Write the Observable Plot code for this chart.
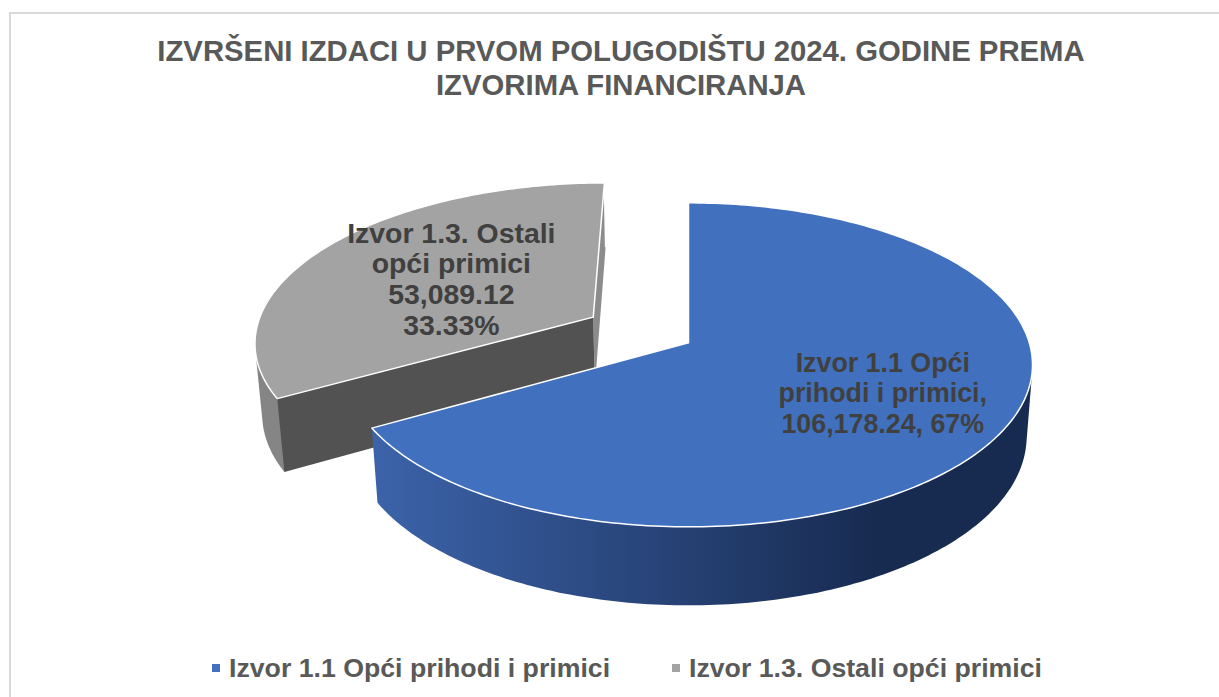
<!DOCTYPE html>
<html>
<head>
<meta charset="utf-8">
<script src="https://cdn.jsdelivr.net/npm/d3@7"></script>
<script src="https://cdn.jsdelivr.net/npm/@observablehq/plot@0.6"></script>
<style>
  html, body { margin: 0; padding: 0; background: #fff; overflow: hidden; }
  #page { position: relative; width: 1219px; height: 697px; overflow: hidden; font-family: "Liberation Sans", Arial, sans-serif; font-weight: bold; color: #595959; }
  #frame { position: absolute; left: 9px; top: 12px; width: 1300px; height: 800px; border: 2px solid #d9d9d9; box-sizing: border-box; }
  #title { position: absolute; left: 0; top: 34px; width: 1242px; text-align: center; font-size: 29.3px; line-height: 34px; white-space: nowrap; }
  #chart { position: absolute; left: 0; top: 120px; }
  #legend { position: absolute; left: 0; top: 652px; height: 32px; font-size: 26.7px; line-height: 32px; white-space: nowrap; }
  .item { position: absolute; top: 0; display: flex; align-items: center; }
  .swatch { width: 8px; height: 8px; margin-right: 9px; }
</style>
</head>
<body>
<div id="page">
  <div id="frame"></div>
  <div id="title"></div>
  <div id="chart"></div>
  <div id="legend"></div>
</div>
<script>
const titleLines = ["IZVRŠENI IZDACI U PRVOM POLUGODIŠTU 2024. GODINE PREMA", "IZVORIMA FINANCIRANJA"];
const categories = ["Izvor 1.1 Opći prihodi i primici", "Izvor 1.3. Ostali opći primici"];
const values = [106178.24, 53089.12];
const labelHeads = [["Izvor 1.1 Opći", "prihodi i primici,"], ["Izvor 1.3. Ostali", "opći primici"]];
const colors = ["#4170bf", "#a3a3a3"];
const explode = [0, 0.33];
const labelRadius = [0.63, 0.52];

// Perspective camera of the 3-D pie
const A = 340.8, B = 159, K = 0.136, DEPTH = 72.3, DEPTH_W = 0.017;
function project(x, yy, lower) {
  const w = 1 - K * yy + (lower ? DEPTH_W : 0);
  return {x: A * x / w, y: (B * yy + (lower ? DEPTH : 0)) / w};
}
const total = d3.sum(values);
let acc = 0;
const slices = values.map((v, i) => {
  const a0 = acc / total * 2 * Math.PI;
  acc += v;
  const a1 = acc / total * 2 * Math.PI;
  const mid = (a0 + a1) / 2;
  const ox = Math.sin(mid) * explode[i], oy = -Math.cos(mid) * explode[i];
  const pt = (a, r, lower) => project(ox + r * Math.sin(a), oy - r * Math.cos(a), lower);
  // The outer wall: convex hull of the last half turn (at most) of the slice's rim, top and bottom
  const wallStart = Math.max(a0, a1 - Math.PI);
  const n = Math.ceil((a1 - a0) / (Math.PI / 180));
  const angles = d3.range(n + 1).map(k => a0 + (a1 - a0) * k / n);
  const wallAngles = angles.filter(a => a >= wallStart - 1e-9);
  const rim = wallAngles.flatMap(a => [pt(a, 1), pt(a, 1, true)]);
  const hull = d3.polygonHull(rim.map(p => [p.x, p.y])).map(([x, y]) => ({x, y}));
  return {
    top: [pt(a0, 0), ...angles.map(a => pt(a, 1)), pt(a0, 0)],
    wall: [...hull, hull[0]],
    faceStart: [pt(a0, 0), pt(a0, 1), pt(a0, 1, true), pt(a0, 0, true), pt(a0, 0)],
    faceEnd: [pt(a1, 0), pt(a1, 1), pt(a1, 1, true), pt(a1, 0, true), pt(a1, 0)],
    edgeEnd: [pt(a1, 1), pt(a1, 1, true)],
    labelAt: pt(mid, labelRadius[i])
  };
});
const [blue, grey] = slices;

const poly = (pts, opts) => Plot.line(pts, {x: "x", y: "y", curve: "linear", stroke: "none", ...opts});

const gradient = () => {
  const defs = d3.create("svg:defs");
  const g = defs.append("linearGradient").attr("id", "blueWall").attr("x1", 0).attr("x2", 1).attr("y1", 0).attr("y2", 0);
  g.append("stop").attr("offset", "0%").attr("stop-color", "#3c63aa");
  g.append("stop").attr("offset", "78%").attr("stop-color", "#172a4f");
  g.append("stop").attr("offset", "100%").attr("stop-color", "#172a4f");
  return defs.node();
};

const labelText = (x, y, text, fontSize, lineHeight, dy) => Plot.text([{x, y, text}], {
  x: "x", y: "y", text: "text", dy,
  fontFamily: "Liberation Sans, Arial, sans-serif",
  fontWeight: "bold", fontSize, lineHeight,
  fill: "#404040", textAnchor: "middle", lineAnchor: "middle"
});

const plot = Plot.plot({
  width: 1219, height: 520,
  margin: 0,
  x: {domain: [-688, 531], range: [0, 1219], axis: null},
  y: {domain: [-222.3, 297.7], range: [0, 520], axis: null},
  style: {background: "transparent", overflow: "visible"},
  marks: [
    gradient,
    poly(grey.wall, {fill: "#858585"}),
    poly(grey.faceEnd, {fill: "#8c8c8c"}),
    poly(grey.faceStart, {fill: "#525252"}),
    poly(grey.edgeEnd, {stroke: "#fff", strokeWidth: 1.5}),
    poly(grey.top, {fill: colors[1], stroke: "#fff", strokeWidth: 1.5}),
    poly(blue.wall, {fill: "url(#blueWall)"}),
    poly(blue.top, {fill: colors[0], stroke: "#fff", strokeWidth: 1.5}),
    labelText(blue.labelAt.x, blue.labelAt.y,
      [...labelHeads[0], `${d3.format(",.2f")(values[0])}, ${d3.format(".0%")(values[0] / total)}`].join("\n"),
      26.8, 1.14, -2.5),
    labelText(grey.labelAt.x, grey.labelAt.y,
      [...labelHeads[1], d3.format(",.2f")(values[1]), d3.format(".2%")(values[1] / total)].join("\n"),
      28.4, 1.08, 0)
  ]
});
document.getElementById("chart").append(plot);

document.getElementById("title").innerHTML = titleLines.join("<br>");
const legend = document.getElementById("legend");
const lefts = [212, 672];
categories.forEach((c, i) => {
  const it = document.createElement("div");
  it.className = "item";
  it.style.left = lefts[i] + "px";
  const s = document.createElement("span");
  s.className = "swatch";
  s.style.background = colors[i];
  const t = document.createElement("span");
  t.textContent = c;
  it.append(s, t);
  legend.append(it);
});
</script>
</body>
</html>
